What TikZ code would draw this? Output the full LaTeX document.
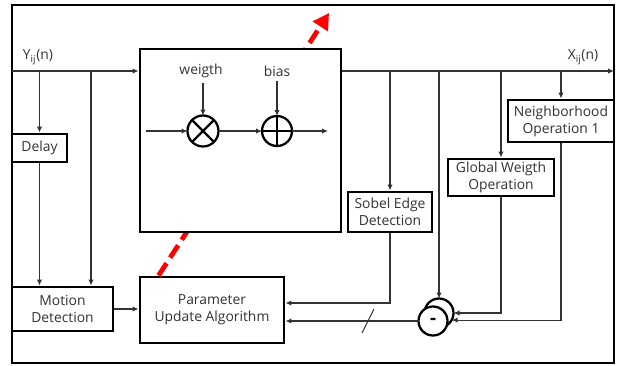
\documentclass[tikz,border=0pt]{standalone}
\usepackage{fontspec}
\setmainfont{Open Sans}
\usepackage{xcolor}
\usetikzlibrary{arrows.meta,positioning}
\definecolor{DRed}{HTML}{FF0000}
\definecolor{DLine}{HTML}{333333}

\begin{document}
\begin{tikzpicture}[
  x=0.75pt,y=-0.75pt,
  font=\fontsize{10.4}{12.75}\selectfont,text=DLine,
  blk/.style={draw=black,line width=2.2pt,fill=white,align=center,inner sep=1pt},
  op/.style={draw=black,circle,line width=1.7pt,inner sep=0pt,outer sep=0pt,fill=white},
  a/.style={-{Latex[length=4.5pt,width=4pt]},line width=0.8pt,color=DLine},
  ln/.style={line width=0.8pt,color=DLine},
  upd/.style={-{Triangle[length=12pt,width=13pt]},line width=3.6pt,color=DRed,
    dash pattern=on 11pt off 5pt}
]
  \useasboundingbox (0,0) rectangle (617,365);
  \draw[line width=2.2pt] (12,5) rectangle (614,363);
  \coordinate (yin) at (12,71);
  \coordinate (xout) at (614,71);
  \coordinate (tap) at (91,71);
  \coordinate (updtip) at (329,13);

  % left side
  \node[blk,minimum width=41.25pt,minimum height=21pt] (delay) at (39.5,148) {Delay};
  \node[blk,minimum width=75.75pt,minimum height=33pt] (motion) at (62.5,309) {Motion\\Detection};
  \node[blk,minimum width=108pt,minimum height=49.5pt] (param) at (212,310) {Parameter\\Update Algorithm};
  \draw[upd] ([xshift=15pt]param.north west) -- (updtip);

  % neuron block
  \node[blk,minimum width=150.75pt,minimum height=137.25pt] (main) at (240.5,140.5) {};
  \node[op,minimum size=23.25pt] (mul) at (203,131) {};
  \node[op,minimum size=22.5pt] (add) at (277,131) {};
  \draw[line width=1.7pt] (mul.north west) -- (mul.south east) (mul.north east) -- (mul.south west);
  \draw[line width=1.7pt] (add.north) -- (add.south) (add.west) -- (add.east);
  \node (wlab) at (201,71) {weigth};
  \node (blab) at (277,71) {bias};
  \coordinate (inl) at (146,131);
  \coordinate (inr) at (328,131);
  \draw[a] (inl) -- (mul);
  \draw[a] (mul) -- (add);
  \draw[a] (add) -- (inr);
  \draw[a] (mul.north |- wlab.south) -- (mul.north);
  \draw[a] (add.north |- blab.south) -- (add.north);

  % right side
  \node[blk,minimum width=63pt,minimum height=30pt] (sobel) at (390,212) {Sobel Edge\\Detection};
  \node[blk,minimum width=79.5pt,minimum height=27.75pt] (gw) at (501,177.5) {Global Weigth\\Operation};
  \node[blk,minimum width=79.5pt,minimum height=31.5pt] (nb) at (561,121) {Neighborhood\\Operation 1};
  \node[op,minimum size=21.75pt] (sb) at (439,313) {};
  \node[op,minimum size=21.75pt,font=\bfseries\fontsize{14}{14}\selectfont,text=black] (sf) at (433,321) {-};

  % input
  \node (ylab) at (38,57) {Y\textsubscript{ij}(n)};
  \draw[a] (yin) -- (yin -| main.west);
  \draw[a] (delay.north |- yin) -- (delay.north);
  \draw[a] (delay.south) -- (delay.south |- motion.north);
  \draw[a] (tap) -- (tap |- motion.north);
  \draw[a] (motion.east) -- (param.west |- motion.east);

  % output
  \node (xlab) at (583,57) {X\textsubscript{ij}(n)};
  \draw[a] (main.east |- xout) -- (xout);
  \draw[a] (sobel.north |- xout) -- (sobel.north);
  \draw[a] (sb.north |- xout) -- (sb.north);
  \draw[a] (gw.north |- xout) -- (gw.north);
  \draw[a] (nb.north |- xout) -- (nb.north);

  % feedback
  \draw[a] (sobel.south) |- ([yshift=5.25pt]param.east);
  \draw[a] (gw.south) |- (sb.east);
  \draw[a] (nb.south) |- (sb.-29);
  \draw[a] (sf.west) -- (sf.west -| param.east);
  \coordinate (cut) at (368,321);
  \draw[ln] ([shift={(-6,12)}]cut) -- ([shift={(6,-12)}]cut);
\end{tikzpicture}
\end{document}
